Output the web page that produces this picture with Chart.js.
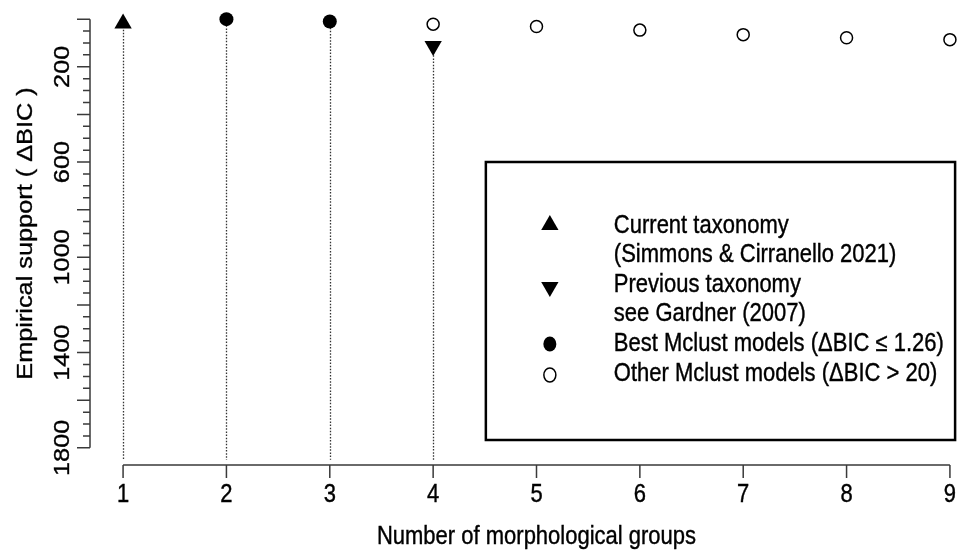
<!DOCTYPE html>
<html><head><meta charset="utf-8">
<script src="https://cdn.jsdelivr.net/npm/chart.js@4/dist/chart.umd.min.js"></script>
<style>
html,body{margin:0;padding:0;overflow:hidden;background:#fff;}
#wrap{position:relative;width:990px;height:556px;}
</style></head><body>
<div id="wrap"><canvas id="c" width="990" height="556"></canvas></div>
<script>
// ---- data ----
const xTicks = [1, 2, 3, 4, 5, 6, 7, 8, 9];
const currentX = [1];          const currentY = [18];
const previousX = [4];         const previousY = [113];
const bestX = [2, 3];          const bestY = [0, 10];
const otherX = [4, 5, 6, 7, 8, 9]; const otherY = [21, 31, 46, 65, 78, 86];
const yLabelTicks = [200, 600, 1000, 1400, 1800];
const yMajorTicks = [0, 200, 400, 600, 800, 1000, 1200, 1400, 1600, 1800];
const yMinorTicks = [50, 100, 150, 250, 300, 350, 450, 500, 550, 650, 700, 750, 850, 900, 950,
  1050, 1100, 1150, 1250, 1300, 1350, 1450, 1500, 1550, 1650, 1700, 1750];
const dropEnd = 1850;
const xTitle = 'Number of morphological groups';
const yTitle = 'Empirical support ( \u0394BIC )';
const legendLines = [
  ['triUp', 'Current taxonomy'],
  [null, '(Simmons & Cirranello 2021)'],
  ['triDown', 'Previous taxonomy'],
  [null, 'see Gardner (2007)'],
  ['dot', 'Best Mclust models (\u0394BIC \u2264 1.26)'],
  ['ring', 'Other Mclust models (\u0394BIC > 20)']
];

const pts = (xs, ys) => xs.map((x, i) => ({x: x, y: ys[i]}));
const FONT = '22px "Liberation Sans", Arial, sans-serif';
const SY = 1.15; // vertical stretch of the reference

function stretchedText(ctx, txt, x, y, rot, align) {
  ctx.save();
  ctx.translate(x, y);
  ctx.scale(1, SY);
  if (rot) ctx.rotate(rot);
  ctx.textAlign = align || 'center';
  ctx.textBaseline = 'middle';
  ctx.fillText(txt, 0, 0);
  ctx.lineWidth = 0.35; ctx.strokeStyle = '#000';
  ctx.strokeText(txt, 0, 0);
  ctx.restore();
}

function drawSym(ctx, kind, x, y) {
  ctx.save();
  ctx.fillStyle = '#000'; ctx.strokeStyle = '#000';
  if (kind === 'triUp' || kind === 'triDown') {
    const r = 10, s = kind === 'triUp' ? 1 : -1;
    ctx.beginPath();
    ctx.moveTo(x, y - s * r);
    ctx.lineTo(x + r * 0.866, y + s * r / 2);
    ctx.lineTo(x - r * 0.866, y + s * r / 2);
    ctx.closePath(); ctx.fill();
  } else if (kind === 'dot') {
    ctx.beginPath(); ctx.ellipse(x, y, 6.5, 7.5, 0, 0, Math.PI * 2); ctx.fill();
  } else if (kind === 'ring') {
    ctx.lineWidth = 1.5;
    ctx.beginPath(); ctx.ellipse(x, y, 6, 7, 0, 0, Math.PI * 2); ctx.stroke();
  }
  ctx.restore();
}

const axesPlugin = {
  id: 'rAxes',
  beforeDatasetsDraw(chart) {
    const ctx = chart.ctx, xs = chart.scales.x, ys = chart.scales.y;
    ctx.save();
    ctx.strokeStyle = '#333'; ctx.lineWidth = 1.3; ctx.setLineDash([1.5, 1.6]);
    const drops = pts(currentX, currentY).concat(pts(bestX, bestY), pts(previousX, previousY));
    drops.forEach(p => {
      const px = Math.round(xs.getPixelForValue(p.x)) + 0.5;
      ctx.beginPath();
      ctx.moveTo(px, ys.getPixelForValue(p.y));
      ctx.lineTo(px, ys.getPixelForValue(dropEnd));
      ctx.stroke();
    });
    ctx.restore();
  },
  afterDatasetsDraw(chart) {
    const ctx = chart.ctx, xs = chart.scales.x, ys = chart.scales.y, ca = chart.chartArea;
    ctx.save();
    ctx.strokeStyle = '#3a3a3a'; ctx.lineWidth = 1.5; ctx.fillStyle = '#000';
    ctx.font = FONT;
    const ay = ca.bottom;
    ctx.beginPath();
    ctx.moveTo(xs.getPixelForValue(xTicks[0]), ay);
    ctx.lineTo(xs.getPixelForValue(xTicks[xTicks.length - 1]), ay);
    xTicks.forEach(t => {
      const px = xs.getPixelForValue(t);
      ctx.moveTo(px, ay); ctx.lineTo(px, ay + 13);
    });
    ctx.stroke();
    xTicks.forEach(t => stretchedText(ctx, String(t), xs.getPixelForValue(t), ay + 30));
    stretchedText(ctx, xTitle, (ca.left + ca.right) / 2, ay + 72);
    const ax = ca.left;
    ctx.strokeStyle = '#3a3a3a'; ctx.lineWidth = 1.5;
    ctx.beginPath();
    ctx.moveTo(ax, ys.getPixelForValue(yMajorTicks[0]));
    ctx.lineTo(ax, ys.getPixelForValue(yMajorTicks[yMajorTicks.length - 1]));
    yMajorTicks.forEach(t => { const py = ys.getPixelForValue(t); ctx.moveTo(ax, py); ctx.lineTo(ax - 13, py); });
    yMinorTicks.forEach(t => { const py = ys.getPixelForValue(t); ctx.moveTo(ax, py); ctx.lineTo(ax - 7, py); });
    ctx.stroke();
    yLabelTicks.forEach(t => stretchedText(ctx, String(t), ax - 27, ys.getPixelForValue(t), -Math.PI / 2));
    stretchedText(ctx, yTitle, ax - 64, (ca.top + ca.bottom) / 2, -Math.PI / 2);
    // legend box
    const L = xs.getPixelForValue(4.51), T = ca.top + 160, R = xs.getPixelForValue(9.05), B = ca.top + 438;
    ctx.lineWidth = 2.5; ctx.strokeStyle = '#000';
    ctx.strokeRect(L, T, R - L, B - T);
    const symX = L + 64, txtX = L + 128;
    const rowY = [T + 64, T + 93, T + 123, T + 152, T + 182, T + 212];
    const symY = [T + 63, null, T + 125, null, T + 182, T + 213];
    legendLines.forEach((ln, i) => {
      if (ln[0]) drawSym(ctx, ln[0], symX, symY[i]);
      stretchedText(ctx, ln[1], txtX, rowY[i], 0, 'left');
    });
    ctx.restore();
  }
};

new Chart(document.getElementById('c'), {
  type: 'scatter',
  data: {
    datasets: [
      { label: 'Current taxonomy', data: pts(currentX, currentY), pointStyle: 'triangle', pointRadius: 10,
        backgroundColor: '#000', borderColor: '#000', borderWidth: 0 },
      { label: 'Previous taxonomy', data: pts(previousX, previousY), pointStyle: 'triangle', rotation: 180, pointRadius: 10,
        backgroundColor: '#000', borderColor: '#000', borderWidth: 0 },
      { label: 'Best Mclust models', data: pts(bestX, bestY), pointStyle: 'circle', pointRadius: 7,
        backgroundColor: '#000', borderColor: '#000', borderWidth: 0 },
      { label: 'Other Mclust models', data: pts(otherX, otherY), pointStyle: 'circle', pointRadius: 6,
        backgroundColor: '#fff', borderColor: '#000', borderWidth: 1.5 }
    ]
  },
  options: {
    responsive: false, devicePixelRatio: 1, animation: false,
    layout: { autoPadding: false, padding: { left: 90, right: 7, top: 2, bottom: 91 } },
    scales: {
      x: { type: 'linear', min: 0.68, max: 9.32, display: false },
      y: { type: 'linear', min: -72, max: 1872, reverse: true, display: false }
    },
    plugins: { legend: { display: false }, tooltip: { enabled: false } }
  },
  plugins: [axesPlugin]
});
</script>
</body></html>
